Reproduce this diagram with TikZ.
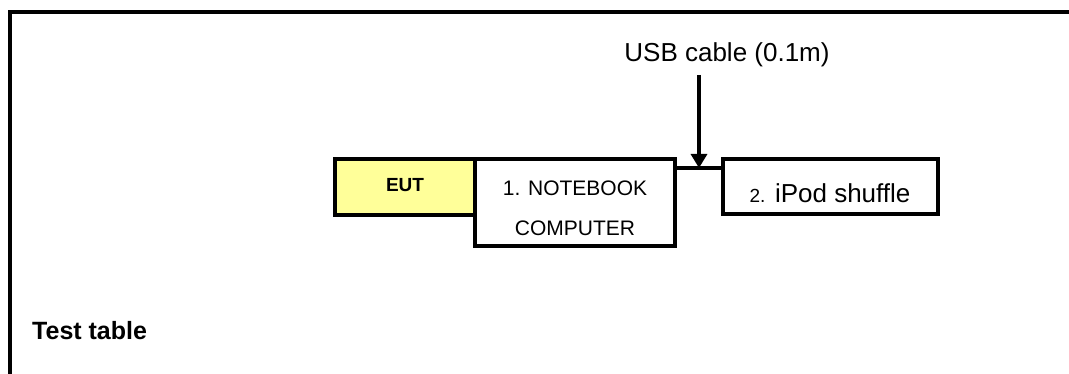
\documentclass[tikz,border=0pt]{standalone}
\usepackage{fontspec}
\setmainfont{Liberation Sans}
\usetikzlibrary{arrows.meta}
\definecolor{eutyellow}{RGB}{255,255,153}
\tikzset{
  boxstyle/.style={draw=black, line width=3.2pt, inner sep=0pt, anchor=center},
  wire/.style={draw=black, line width=3.2pt},
  labeltext/.style={inner sep=0pt, anchor=base}
}
\begin{document}
\begin{tikzpicture}[x=1pt,y=-1pt]
\useasboundingbox (0,0) rectangle (1069,374);
\fill[white] (0,0) rectangle (1069,374);
% outer frame (only top and left edges visible)
\draw[wire] (1075,12) -- (10,12) -- (10,380);
% boxes
\node[boxstyle, fill=eutyellow, minimum width=140pt, minimum height=56pt] (eut) at (405,187) {};
\node[boxstyle, fill=white, minimum width=200pt, minimum height=87pt] (nb) at (575,202.5) {};
\node[boxstyle, fill=white, minimum width=215pt, minimum height=55pt] (ipod) at (830.5,186.5) {};
% box texts
\node[labeltext, font=\fontsize{19}{19}\selectfont\bfseries] (euttext) at (405,192) {EUT};
\node[labeltext, font=\fontsize{21}{21}\selectfont] (nbtext1) at (575,195.5) {1. NOTEBOOK};
\node[labeltext, font=\fontsize{21}{21}\selectfont] (nbtext2) at (575,235.5) {COMPUTER};
\node[labeltext, font=\fontsize{26}{26}\selectfont] (ipodtext) at (830,203)
      {{\fontsize{19}{19}\selectfont 2.} iPod shuffle};
% cable
\coordinate (cableL) at (nb.east |- 0,168);
\coordinate (cableR) at (ipod.west |- 0,168);
\draw[wire] (cableL) -- (cableR);
\coordinate (cablemid) at (699,168);
% label and arrow
\node[inner sep=0pt, font=\fontsize{26}{26}\selectfont] (usb) at (727,55) {USB cable (0.1m)};
\coordinate (arrowtop) at (699,75);
\draw[wire, -{Triangle[width=16pt,length=14pt]}] (arrowtop) -- (cablemid);
% caption
\node[inner sep=0pt, anchor=base west, font=\fontsize{25}{25}\selectfont\bfseries] (tt) at (32,339) {Test table};
\end{tikzpicture}
\end{document}
